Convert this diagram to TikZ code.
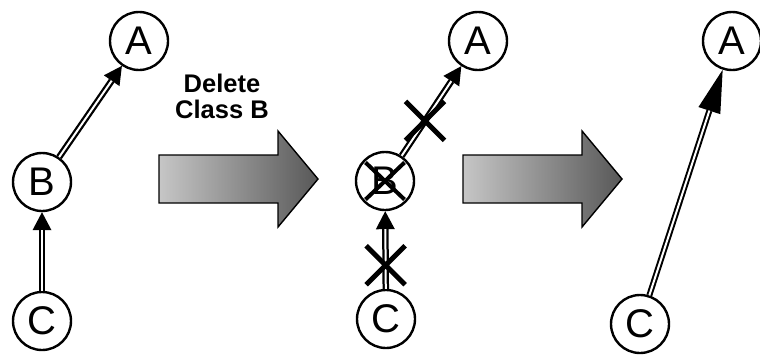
\documentclass[tikz,border=0pt]{standalone}
\usepackage{fontspec}
\setmainfont{Liberation Sans}
\usetikzlibrary{arrows.meta,shapes.misc,calc}
\definecolor{shadeL}{RGB}{198,198,198}
\definecolor{shadeR}{RGB}{88,88,88}
\begin{document}
\begin{tikzpicture}[x=1pt,y=-1pt,
  cls/.style={circle,draw,line width=2.4pt,minimum size=58pt,inner sep=0pt,font=\fontsize{40}{40}\selectfont},
  linkouter/.style={line width=6.5pt,-{Triangle[length=18pt,width=19pt,line width=0pt]}},
  linkinner/.style={white,line width=2pt,shorten >=18pt},
  bigouter/.style={line width=6pt,-{Triangle[length=43pt,width=23pt,line width=0pt]}},
  biginner/.style={white,line width=2pt,shorten >=43pt},
  blockarrow/.style={left color=shadeL,right color=shadeR,draw=black,line width=1.4pt,line join=miter},
  xmark/.style={cross out,draw,line width=5pt,minimum size=34pt,inner sep=0pt},
  caption/.style={font=\bfseries\fontsize{25.5}{26}\selectfont,align=center,inner sep=0pt}
]
\useasboundingbox (0,0) rectangle (760,359);

% left panel
\node[cls] (A1) at (139,41) {A};
\node[cls] (B1) at (42,182) {B};
\node[cls] (C1) at (42,321) {C};
\draw[linkouter] (B1) -- (A1);
\draw[linkinner] (B1) -- (A1);
\draw[linkouter] (C1) -- (B1);
\draw[linkinner] (C1) -- (B1);

% first block arrow and caption
\node[caption] (cap) at (222,96) {Delete\\Class B};
\shade[blockarrow] (159,155) -- (278,155) -- (278,131) -- (318,179) -- (278,227) -- (278,203) -- (159,203) -- cycle;

% middle panel
\node[cls] (A2) at (478,41) {A};
\node[cls] (B2) at (385,181) {B};
\node[cls] (C2) at (386,319) {C};
\draw[linkouter] (B2) -- (A2);
\draw[linkinner] (B2) -- (A2);
\draw[linkouter] (C2) -- (B2);
\draw[linkinner] (C2) -- (B2);
\node[xmark] (X1) at ($(B2)!0.43!(A2)$) {};
\node[xmark] (X2) at ($(C2)!0.39!(B2)$) {};
\node[cross out,draw,line width=4pt,minimum width=35pt,minimum height=33pt,inner sep=0pt] (XB) at (B2) {};

% second block arrow
\shade[blockarrow] (463,155) -- (582,155) -- (582,131) -- (622,179) -- (582,227) -- (582,203) -- (463,203) -- cycle;

% right panel
\node[cls] (A3) at (732,41) {A};
\node[cls] (C3) at (640,324) {C};
\draw[bigouter] (C3) -- (A3);
\draw[biginner] (C3) -- (A3);
\end{tikzpicture}
\end{document}
